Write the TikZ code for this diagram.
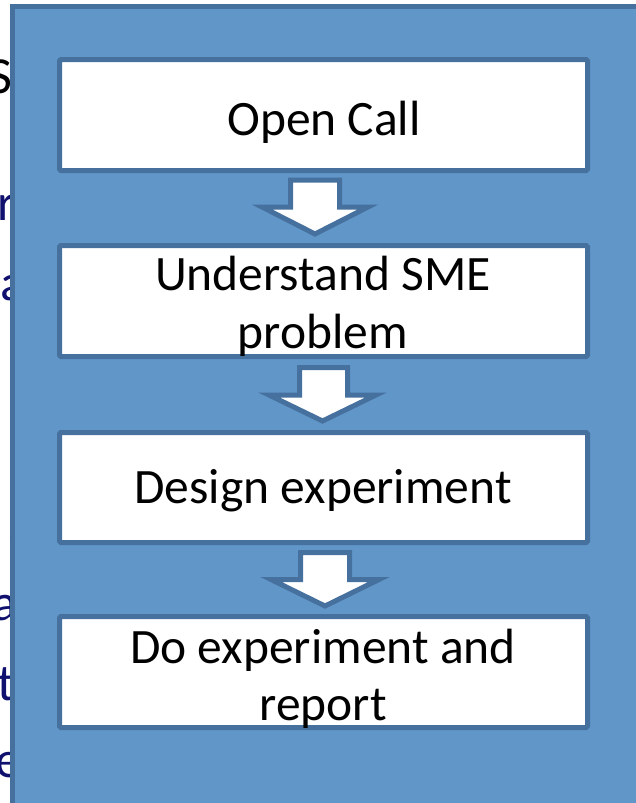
\documentclass[tikz,border=0pt]{standalone}
\usepackage{fontspec}
\setmainfont{Carlito}
\definecolor{panelfill}{RGB}{97,150,201}
\definecolor{paneledge}{RGB}{70,113,158}
\definecolor{navytext}{RGB}{16,16,110}
\tikzset{
  stepbox/.style={draw=paneledge, line width=5pt, fill=white, rounded corners=1.5pt,
    minimum width=528pt, minimum height=111pt, inner sep=0pt},
  lbl/.style={font=\fontsize{49.5}{57}\selectfont, text=black, inner sep=0pt, anchor=base},
  frag/.style={font=\fontsize{52}{60}\selectfont, text=navytext, inner sep=0pt, anchor=base west},
  blockarrow/.style={draw=paneledge, line width=5pt, fill=white, line join=miter}
}
\begin{document}
\begin{tikzpicture}[x=1pt,y=-1pt]
\useasboundingbox (0,0) rectangle (636,803);
\clip (0,0) rectangle (636,803);
% fragments of text hidden behind the panel
\node[frag, text=black] (f1) at (-12,93) {S};
\node[frag] (f2) at (-3,220) {r};
\node[frag] (f3) at (0,300) {a};
\node[frag] (f4) at (8,540) {s};
\node[frag] (f5) at (-8,620) {a};
\node[frag] (f6) at (-3,700) {t};
\node[frag] (f7) at (-5,777) {e};
% panel
\draw[draw=paneledge, fill=panelfill, line width=5pt] (12,6.5) rectangle (660,830);
% boxes
\node[stepbox] (b1) at (323.5,115) {};
\node[stepbox] (b2) at (323.5,301) {};
\node[stepbox, minimum height=110pt] (b3) at (323.5,487.5) {};
\node[stepbox] (b4) at (323.5,672) {};
% block arrows
\draw[blockarrow] (290.5,180) -- (339.5,180) -- (339.5,207) -- (368,207) -- (315,234) -- (262,207) -- (290.5,207) -- cycle;
\draw[blockarrow] (299.5,367.5) -- (347.5,367.5) -- (347.5,395) -- (376,395) -- (322.5,421) -- (269,395) -- (299.5,395) -- cycle;
\draw[blockarrow] (300.5,552.5) -- (349.5,552.5) -- (349.5,579.5) -- (379,579.5) -- (325,606) -- (271,579.5) -- (300.5,579.5) -- cycle;
% labels
\node[lbl] (t1) at (324,135) {Open Call};
\node[lbl] (t2a) at (323,290) {Understand SME};
\node[lbl] (t2b) at (323,348) {problem};
\node[lbl] (t3) at (323,503) {Design experiment};
\node[lbl] (t4a) at (323,663) {Do experiment and};
\node[lbl] (t4b) at (323,720) {report};
\end{tikzpicture}
\end{document}
